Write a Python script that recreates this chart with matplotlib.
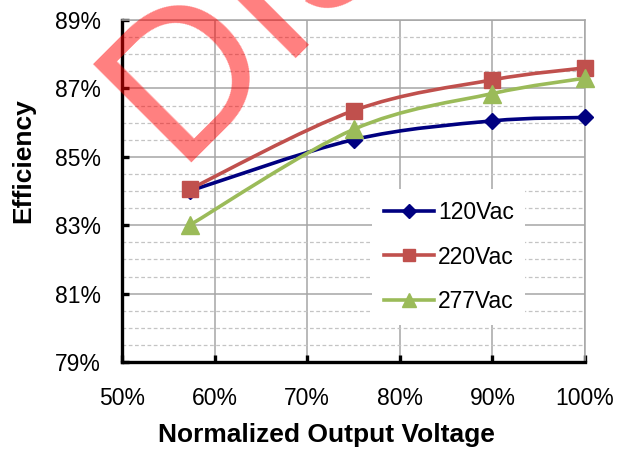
import numpy as np
import matplotlib
matplotlib.use('Agg')
import matplotlib.pyplot as plt
from matplotlib.path import Path
from matplotlib.patches import PathPatch
from matplotlib.lines import Line2D

plt.rcParams['font.family'] = ['Liberation Sans', 'DejaVu Sans']

# data
out_voltage = [57.3, 75, 90, 100]          # normalized output voltage, %
eff_120 = [84.0, 85.5, 86.05, 86.15]
eff_220 = [84.05, 86.35, 87.25, 87.6]
eff_277 = [83.0, 85.8, 86.85, 87.3]
series_names = ['120Vac', '220Vac', '277Vac']
x_ticks = [50, 60, 70, 80, 90, 100]
y_ticks = [79, 81, 83, 85, 87, 89]


def smooth_path(xs, ys):
    # excel style smoothed line: bezier segments through every point
    pts = np.column_stack([xs, ys]).astype(float)
    n = len(pts)
    verts = [pts[0]]
    codes = [Path.MOVETO]
    for i in range(n - 1):
        p0 = pts[i - 1] if i > 0 else pts[i]
        p1 = pts[i]
        p2 = pts[i + 1]
        p3 = pts[i + 2] if i + 2 < n else pts[i + 1]
        verts += [p1 + (p2 - p0) / 6, p2 - (p3 - p1) / 6, p2]
        codes += [Path.CURVE4] * 3
    return Path(verts, codes)


fig = plt.figure(figsize=(6.21, 4.5), dpi=100)
ax = fig.add_axes([122 / 621, 1 - 362 / 450, (585 - 122) / 621, (362 - 20) / 450])

styles = [
    dict(color='#000080', marker='D', ms=8.5),
    dict(color='#C0504D', marker='s', ms=11.5),
    dict(color='#9BBB59', marker='^', ms=12.5),
]
handles = []
for ys, name, st in zip([eff_120, eff_220, eff_277], series_names, styles):
    patch = PathPatch(smooth_path(out_voltage, ys), facecolor='none',
                      edgecolor=st['color'], lw=2.6, zorder=3)
    ax.add_patch(patch)
    ax.plot(out_voltage, ys, linestyle='none', marker=st['marker'],
            ms=st['ms'], color=st['color'], zorder=4, clip_on=False)
    handles.append(Line2D([], [], color=st['color'], lw=2.6,
                          marker=st['marker'], ms=st['ms'] * 0.8))

ax.set_xlim(50, 100)
ax.set_ylim(79, 89)
ax.set_xticks(x_ticks)
ax.set_xticklabels([f'{v}%' for v in x_ticks])
ax.set_yticks(y_ticks)
ax.set_yticklabels([f'{v}%' for v in y_ticks])
ax.set_yticks(np.arange(79, 89.01, 0.5), minor=True)

ax.grid(which='major', color='#a6a6a6', lw=1.1)
ax.grid(which='minor', axis='y', color='#c4c4c4', lw=0.9, linestyle=(0, (3, 2)))
ax.set_axisbelow(True)

for s in ['left', 'bottom']:
    ax.spines[s].set_color('black')
    ax.spines[s].set_linewidth(2.4)
for s in ['top', 'right']:
    ax.spines[s].set_color('#a6a6a6')
    ax.spines[s].set_linewidth(1.1)

ax.tick_params(axis='both', which='major', direction='in', length=5, width=2.4,
               labelsize=16.5, colors='black')
ax.tick_params(axis='x', pad=18)
ax.tick_params(axis='y', pad=15)
ax.tick_params(axis='y', which='minor', length=0)
ax.tick_params(top=False, right=False)

leg = ax.legend(handles, series_names, loc='center left',
                bbox_to_anchor=(361 / 621, 1 - 257 / 450), bbox_transform=fig.transFigure,
                fontsize=16.5, frameon=True, facecolor='white', edgecolor='none',
                framealpha=1, handlelength=2.2, handletextpad=0.15, labelspacing=0.95,
                borderpad=0.5, fancybox=False)
leg.set_zorder(5)

fig.text(23 / 621, 1 - 161 / 450, 'Efficiency', rotation=90, fontsize=19,
         fontweight='bold', ha='center', va='center')
fig.text(326 / 621, 8 / 450, 'Normalized Output Voltage', fontsize=19,
         fontweight='bold', ha='center', va='baseline')
# title sits mostly above the visible area
fig.text(173 / 621, 1 + 9 / 450, 'Efficiency vs Output Percentage', fontsize=20,
         fontweight='bold', ha='left', va='baseline')

# red watermark across the top left
fig.text(175 / 621, 1 - 163 / 450, 'DISCONTINUED', fontsize=146, rotation=45,
         rotation_mode='anchor', ha='left', va='baseline', color='red', alpha=0.5,
         zorder=10)

fig.savefig('out.png', dpi=100)
